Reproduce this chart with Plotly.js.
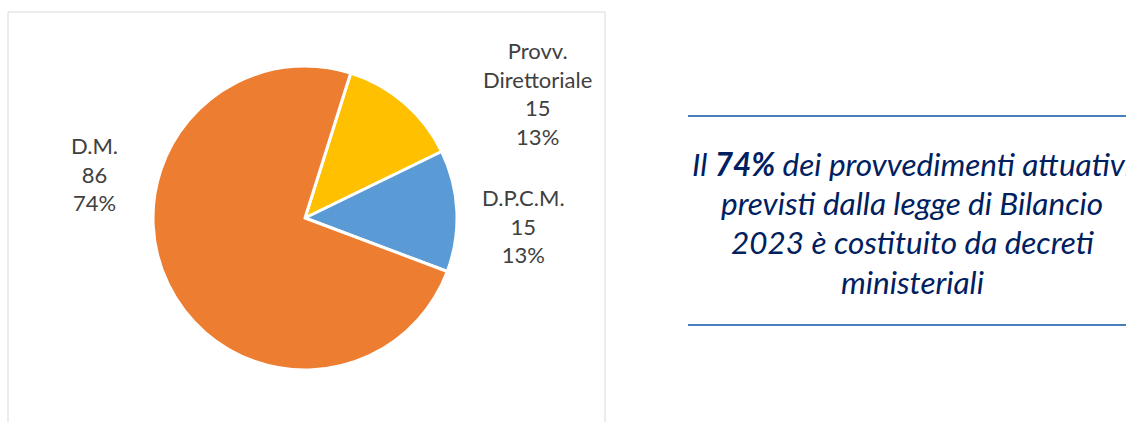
<!DOCTYPE html>
<html>
<head>
<meta charset="utf-8">
<script src="https://cdn.plot.ly/plotly-3.0.1.min.js"></script>
<style>html,body{margin:0;padding:0;background:#fff;}#chart{width:1126px;height:422px;}</style>
</head>
<body>
<div id="chart"></div>
<script>
// Data
const categories = ["Provv.<br>Direttoriale", "D.P.C.M.", "D.M."];
const values = [15, 15, 86];
const colors = ["#FFC000", "#5B9BD5", "#ED7D31"];
const calloutLines = [
  "Il <b>74%</b> dei provvedimenti attuativi",
  "previsti dalla legge di Bilancio",
  "2023 è costituito da decreti",
  "ministeriali"
];

const W = 1126, H = 422;
const px = x => x / W;
const py = y => 1 - y / H;

const total = values.reduce((a, b) => a + b, 0);

// label block positions (px) for each category
const labelPos = [
  {x: 537, y: 93},
  {x: 523, y: 226},
  {x: 94, y: 174}
];

const annotations = [];
categories.forEach((c, i) => {
  const pct = Math.round(values[i] / total * 100) + "%";
  annotations.push({
    xref: "paper", yref: "paper",
    x: px(labelPos[i].x), y: py(labelPos[i].y),
    xanchor: "center", yanchor: "middle",
    text: c + "<br>" + values[i] + "<br>" + pct,
    showarrow: false, align: "center",
    font: {family: "Lato, 'Open Sans', sans-serif", size: 22, color: "#404040"}
  });
});

const lineYs = [164, 203, 242, 282];
calloutLines.forEach((t, i) => {
  annotations.push({
    xref: "paper", yref: "paper",
    x: px(912), y: py(lineYs[i]),
    xanchor: "center", yanchor: "middle",
    text: t, showarrow: false, align: "center",
    font: {family: "Lato, 'Open Sans', sans-serif", size: 31.5, color: "#002060", style: "italic"}
  });
});

const shapes = [
  {type: "rect", xref: "paper", yref: "paper", x0: px(8), x1: px(605), y0: py(430), y1: py(12),
   line: {color: "#D9D9D9", width: 1}, fillcolor: "rgba(0,0,0,0)", layer: "below"},
  {type: "line", xref: "paper", yref: "paper", x0: px(688), x1: px(1130), y0: py(116), y1: py(116),
   line: {color: "#4A7EBB", width: 2}},
  {type: "line", xref: "paper", yref: "paper", x0: px(688), x1: px(1130), y0: py(325), y1: py(325),
   line: {color: "#4A7EBB", width: 2}}
];

const trace = {
  type: "pie",
  labels: categories,
  values: values,
  sort: false,
  direction: "clockwise",
  rotation: 17.5,
  marker: {colors: colors, line: {color: "#FFFFFF", width: 3}},
  textinfo: "none",
  hoverinfo: "label+value+percent",
  showlegend: false,
  domain: {x: [px(153), px(457)], y: [py(370), py(66)]}
};

const layout = {
  width: W, height: H,
  margin: {l: 0, r: 0, t: 0, b: 0},
  paper_bgcolor: "#FFFFFF",
  plot_bgcolor: "#FFFFFF",
  showlegend: false,
  annotations: annotations,
  shapes: shapes
};

Plotly.newPlot("chart", [trace], layout, {displayModeBar: false, staticPlot: true});
</script>
</body>
</html>
